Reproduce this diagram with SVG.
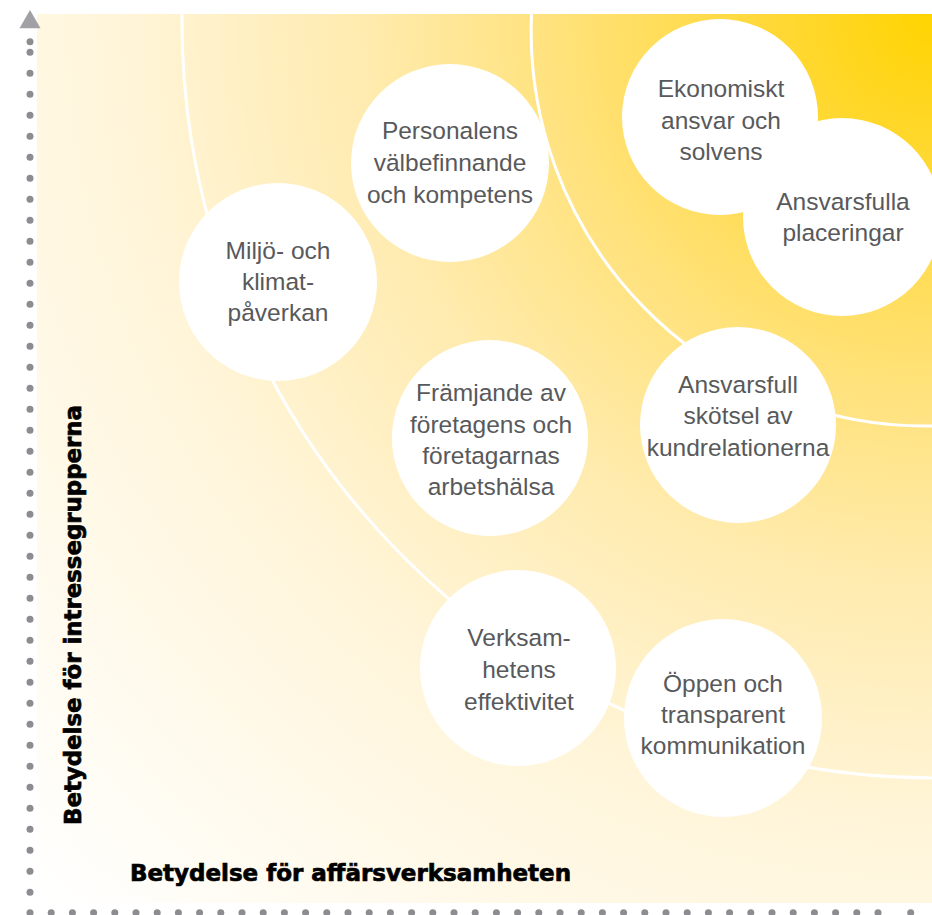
<svg xmlns="http://www.w3.org/2000/svg" width="932" height="915" viewBox="0 0 932 915">
  <defs>
    <radialGradient id="bg" gradientUnits="userSpaceOnUse" cx="932" cy="14" r="1260">
      <stop offset="0" stop-color="#FFD400"/>
      <stop offset="0.12" stop-color="#FFD834"/>
      <stop offset="0.3" stop-color="#FFE27C"/>
      <stop offset="0.45" stop-color="#FFEBAE"/>
      <stop offset="0.65" stop-color="#FFF5DA"/>
      <stop offset="0.85" stop-color="#FFFBF0"/>
      <stop offset="1" stop-color="#FFFFFF"/>
    </radialGradient>
    <style>
      .dot { fill: #8C8C91; }
      .arc { fill: none; stroke: #FFFFFF; stroke-width: 3; }
      .node circle { fill: #FFFFFF; }
      .node text { font-family: "Liberation Sans", Arial, sans-serif; font-size: 24.5px; fill: #58595B; text-anchor: middle; }
      .axis { font-family: "DejaVu Sans", "Liberation Sans", sans-serif; font-weight: bold; font-size: 23px; fill: #000000; stroke: #000000; stroke-width: 0.7; }
    </style>
  </defs>

  <rect x="0" y="0" width="932" height="915" fill="#FFFFFF"/>
  <rect x="37" y="14" width="895" height="889" fill="url(#bg)"/>

  <g id="axes">
    <polygon points="30,10 19.5,28.3 40.5,28.3" fill="#A0A0A5"/>
    <g id="vdots">
      <circle class="dot" cx="30" cy="41.7" r="3.5"/>
      <circle class="dot" cx="30" cy="52.3" r="3.5"/>
      <circle class="dot" cx="30" cy="73.3" r="3.5"/>
      <circle class="dot" cx="30" cy="94.3" r="3.5"/>
      <circle class="dot" cx="30" cy="115.3" r="3.5"/>
      <circle class="dot" cx="30" cy="136.3" r="3.5"/>
      <circle class="dot" cx="30" cy="157.3" r="3.5"/>
      <circle class="dot" cx="30" cy="178.3" r="3.5"/>
      <circle class="dot" cx="30" cy="199.3" r="3.5"/>
      <circle class="dot" cx="30" cy="220.3" r="3.5"/>
      <circle class="dot" cx="30" cy="241.3" r="3.5"/>
      <circle class="dot" cx="30" cy="262.3" r="3.5"/>
      <circle class="dot" cx="30" cy="283.3" r="3.5"/>
      <circle class="dot" cx="30" cy="304.3" r="3.5"/>
      <circle class="dot" cx="30" cy="325.3" r="3.5"/>
      <circle class="dot" cx="30" cy="346.3" r="3.5"/>
      <circle class="dot" cx="30" cy="367.3" r="3.5"/>
      <circle class="dot" cx="30" cy="388.3" r="3.5"/>
      <circle class="dot" cx="30" cy="409.3" r="3.5"/>
      <circle class="dot" cx="30" cy="430.3" r="3.5"/>
      <circle class="dot" cx="30" cy="451.3" r="3.5"/>
      <circle class="dot" cx="30" cy="472.3" r="3.5"/>
      <circle class="dot" cx="30" cy="493.3" r="3.5"/>
      <circle class="dot" cx="30" cy="514.3" r="3.5"/>
      <circle class="dot" cx="30" cy="535.3" r="3.5"/>
      <circle class="dot" cx="30" cy="556.3" r="3.5"/>
      <circle class="dot" cx="30" cy="577.3" r="3.5"/>
      <circle class="dot" cx="30" cy="598.3" r="3.5"/>
      <circle class="dot" cx="30" cy="619.3" r="3.5"/>
      <circle class="dot" cx="30" cy="640.3" r="3.5"/>
      <circle class="dot" cx="30" cy="661.3" r="3.5"/>
      <circle class="dot" cx="30" cy="682.3" r="3.5"/>
      <circle class="dot" cx="30" cy="703.3" r="3.5"/>
      <circle class="dot" cx="30" cy="724.3" r="3.5"/>
      <circle class="dot" cx="30" cy="745.3" r="3.5"/>
      <circle class="dot" cx="30" cy="766.3" r="3.5"/>
      <circle class="dot" cx="30" cy="787.3" r="3.5"/>
      <circle class="dot" cx="30" cy="808.3" r="3.5"/>
      <circle class="dot" cx="30" cy="829.3" r="3.5"/>
      <circle class="dot" cx="30" cy="850.3" r="3.5"/>
      <circle class="dot" cx="30" cy="871.3" r="3.5"/>
      <circle class="dot" cx="30" cy="892.3" r="3.5"/>
    </g>
    <g id="hdots">
      <circle class="dot" cx="30" cy="912.7" r="3.5"/>
      <circle class="dot" cx="51.2" cy="912.7" r="3.5"/>
      <circle class="dot" cx="72.4" cy="912.7" r="3.5"/>
      <circle class="dot" cx="93.6" cy="912.7" r="3.5"/>
      <circle class="dot" cx="114.8" cy="912.7" r="3.5"/>
      <circle class="dot" cx="136" cy="912.7" r="3.5"/>
      <circle class="dot" cx="157.2" cy="912.7" r="3.5"/>
      <circle class="dot" cx="178.4" cy="912.7" r="3.5"/>
      <circle class="dot" cx="199.6" cy="912.7" r="3.5"/>
      <circle class="dot" cx="220.8" cy="912.7" r="3.5"/>
      <circle class="dot" cx="242" cy="912.7" r="3.5"/>
      <circle class="dot" cx="263.2" cy="912.7" r="3.5"/>
      <circle class="dot" cx="284.4" cy="912.7" r="3.5"/>
      <circle class="dot" cx="305.6" cy="912.7" r="3.5"/>
      <circle class="dot" cx="326.8" cy="912.7" r="3.5"/>
      <circle class="dot" cx="348" cy="912.7" r="3.5"/>
      <circle class="dot" cx="369.2" cy="912.7" r="3.5"/>
      <circle class="dot" cx="390.4" cy="912.7" r="3.5"/>
      <circle class="dot" cx="411.6" cy="912.7" r="3.5"/>
      <circle class="dot" cx="432.8" cy="912.7" r="3.5"/>
      <circle class="dot" cx="454" cy="912.7" r="3.5"/>
      <circle class="dot" cx="475.2" cy="912.7" r="3.5"/>
      <circle class="dot" cx="496.4" cy="912.7" r="3.5"/>
      <circle class="dot" cx="517.6" cy="912.7" r="3.5"/>
      <circle class="dot" cx="538.8" cy="912.7" r="3.5"/>
      <circle class="dot" cx="560" cy="912.7" r="3.5"/>
      <circle class="dot" cx="581.2" cy="912.7" r="3.5"/>
      <circle class="dot" cx="602.4" cy="912.7" r="3.5"/>
      <circle class="dot" cx="623.6" cy="912.7" r="3.5"/>
      <circle class="dot" cx="644.8" cy="912.7" r="3.5"/>
      <circle class="dot" cx="666" cy="912.7" r="3.5"/>
      <circle class="dot" cx="687.2" cy="912.7" r="3.5"/>
      <circle class="dot" cx="708.4" cy="912.7" r="3.5"/>
      <circle class="dot" cx="729.6" cy="912.7" r="3.5"/>
      <circle class="dot" cx="750.8" cy="912.7" r="3.5"/>
      <circle class="dot" cx="772" cy="912.7" r="3.5"/>
      <circle class="dot" cx="793.2" cy="912.7" r="3.5"/>
      <circle class="dot" cx="814.4" cy="912.7" r="3.5"/>
      <circle class="dot" cx="835.6" cy="912.7" r="3.5"/>
      <circle class="dot" cx="856.8" cy="912.7" r="3.5"/>
      <circle class="dot" cx="878" cy="912.7" r="3.5"/>
      <circle class="dot" cx="910.7" cy="912.7" r="3.5"/>
    </g>
    <text class="axis" transform="translate(81,825) rotate(-90)" x="0" y="0" textLength="420" lengthAdjust="spacingAndGlyphs">Betydelse för intressegrupperna</text>
    <text class="axis" x="130" y="880.7" textLength="441" lengthAdjust="spacingAndGlyphs">Betydelse för affärsverksamheten</text>
  </g>

  <g id="connectors">
    <path class="arc" d="M182,14 A753,758 0 0 0 932,778"/>
    <path class="arc" d="M531.5,14 A395,395 0 0 0 932,426"/>
  </g>

  <g id="n-personal" class="node">
    <circle cx="450" cy="163" r="99"/>
    <text x="450" y="139">Personalens</text>
    <text x="450" y="171">välbefinnande</text>
    <text x="450" y="203">och kompetens</text>
  </g>
  <g id="n-miljo" class="node">
    <circle cx="278" cy="282" r="99"/>
    <text x="278" y="259">Miljö- och</text>
    <text x="278" y="290">klimat-</text>
    <text x="278" y="321">påverkan</text>
  </g>
  <g id="n-ekonomiskt" class="node">
    <circle cx="720" cy="117" r="98"/>
    <text x="721" y="97">Ekonomiskt</text>
    <text x="721" y="129">ansvar och</text>
    <text x="721" y="160">solvens</text>
  </g>
  <g id="n-placeringar" class="node">
    <circle cx="842" cy="217" r="99"/>
    <text x="843" y="210">Ansvarsfulla</text>
    <text x="843" y="241">placeringar</text>
  </g>
  <g id="n-framjande" class="node">
    <circle cx="490" cy="438" r="98"/>
    <text x="491" y="401">Främjande av</text>
    <text x="491" y="433">företagens och</text>
    <text x="491" y="464">företagarnas</text>
    <text x="491" y="495">arbetshälsa</text>
  </g>
  <g id="n-kundrelationer" class="node">
    <circle cx="738" cy="425" r="98"/>
    <text x="738" y="393">Ansvarsfull</text>
    <text x="738" y="424">skötsel av</text>
    <text x="738" y="456">kundrelationerna</text>
  </g>
  <g id="n-verksamhet" class="node">
    <circle cx="518" cy="668" r="98"/>
    <text x="519" y="646">Verksam-</text>
    <text x="519" y="678">hetens</text>
    <text x="519" y="710">effektivitet</text>
  </g>
  <g id="n-kommunikation" class="node">
    <circle cx="723" cy="718" r="99"/>
    <text x="723" y="692">Öppen och</text>
    <text x="723" y="723">transparent</text>
    <text x="723" y="754">kommunikation</text>
  </g>
</svg>
